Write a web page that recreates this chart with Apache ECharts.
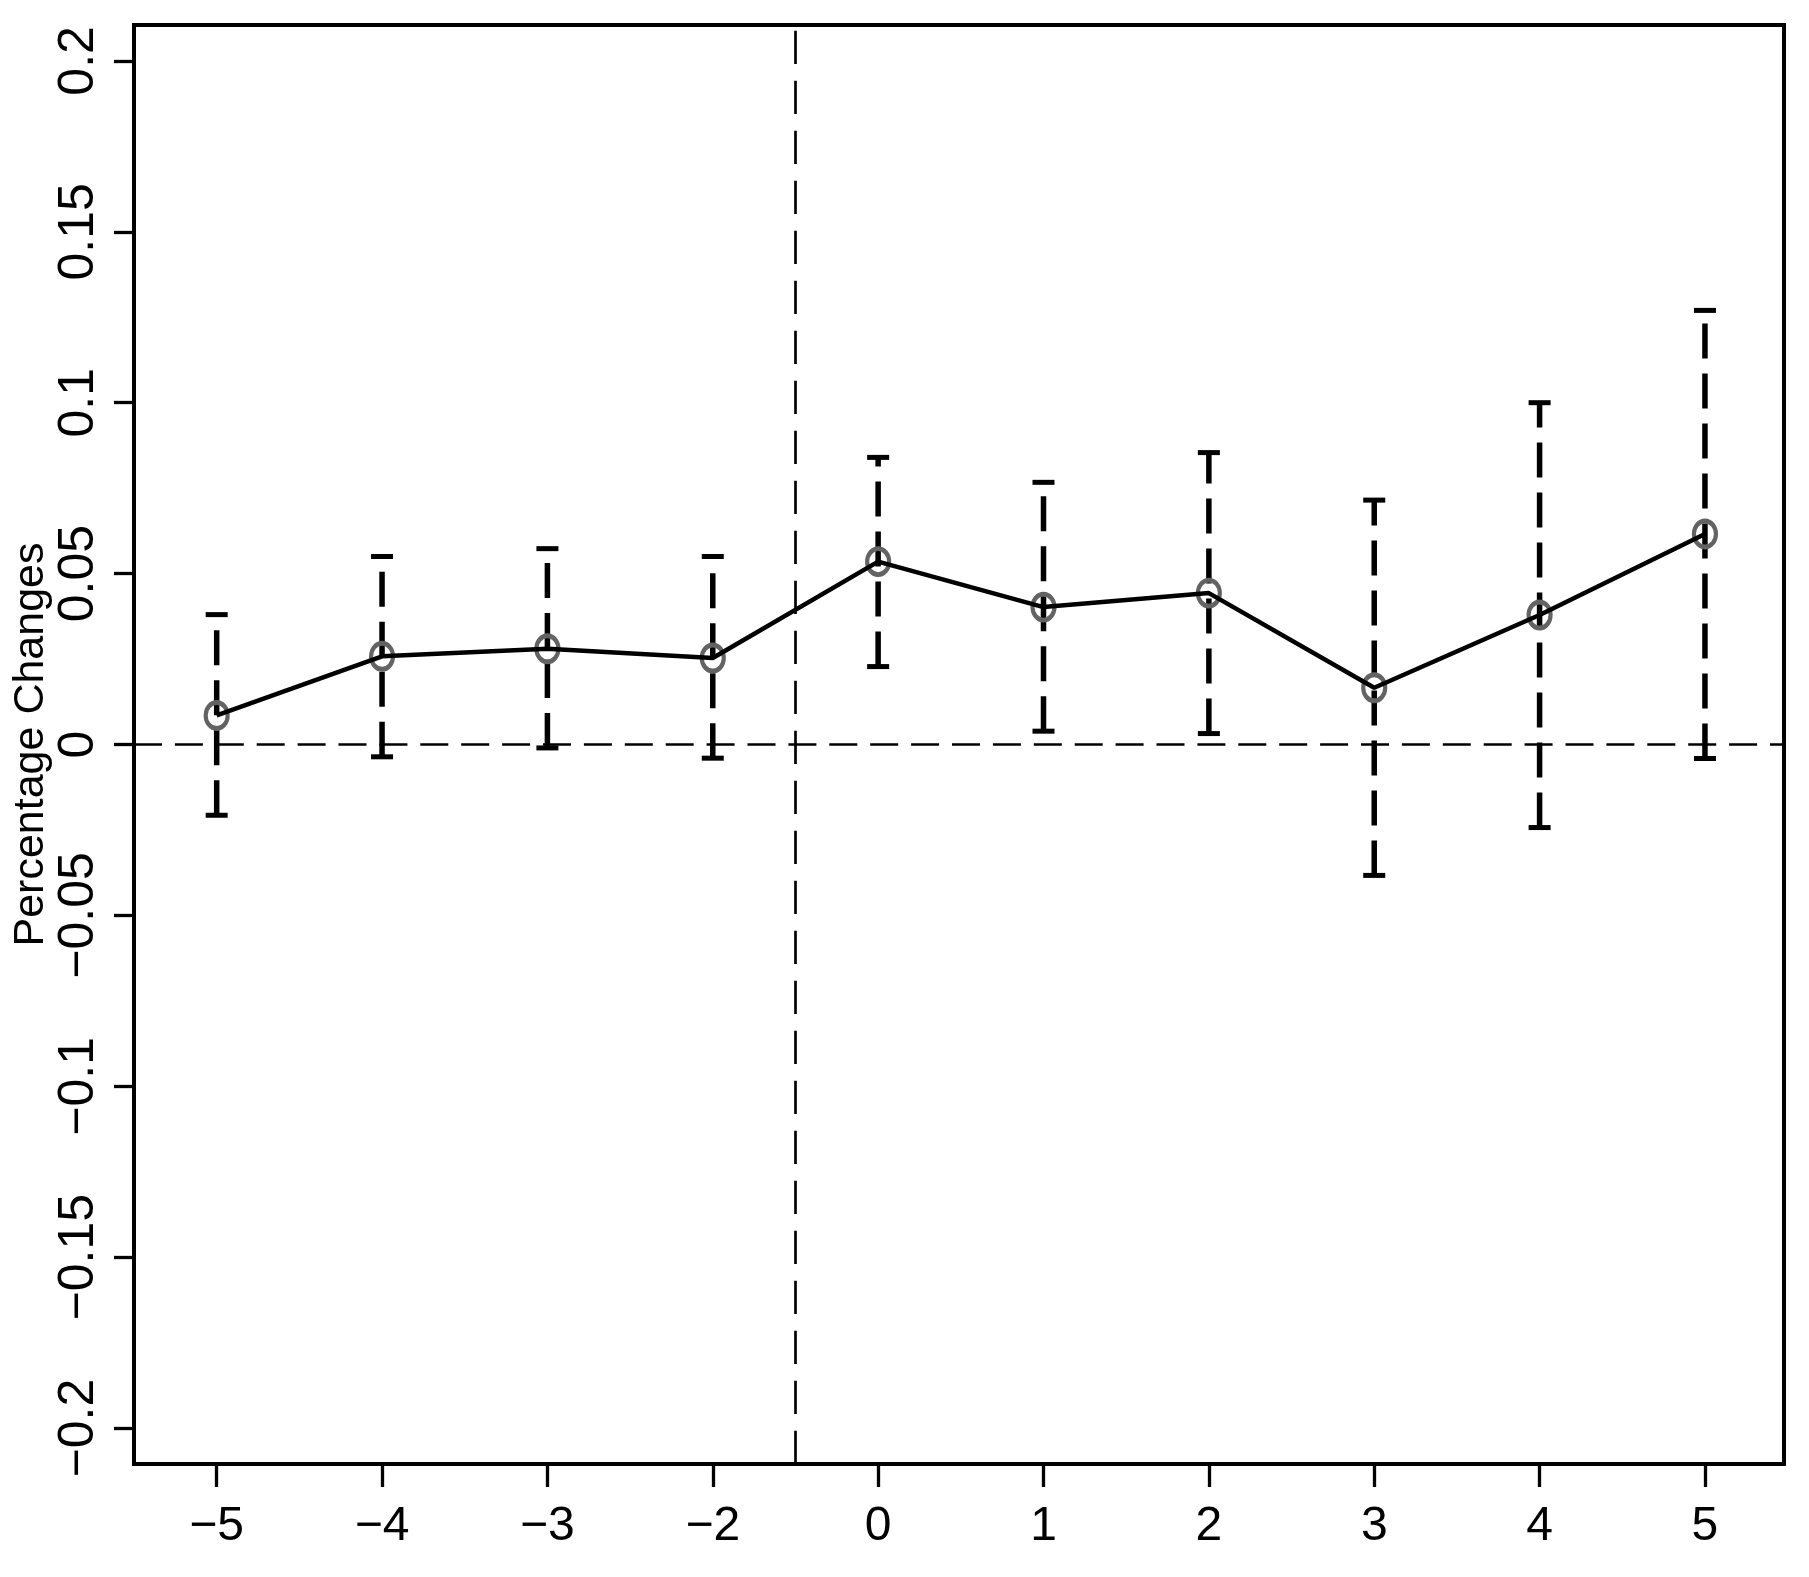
<!DOCTYPE html>
<html>
<head>
<meta charset="utf-8">
<script src="https://cdn.jsdelivr.net/npm/echarts@6/dist/echarts.min.js"></script>
<style>
  html, body { margin: 0; padding: 0; background: #fff; }
  #chart { width: 1809px; height: 1577px; }
</style>
</head>
<body>
<div id="chart"></div>
<script>
// ---- data ----
const categories = ['\u22125', '\u22124', '\u22123', '\u22122', '0', '1', '2', '3', '4', '5'];
const estimates = [0.0085, 0.0258, 0.0280, 0.0253, 0.0535, 0.0402, 0.0443, 0.0166, 0.0379, 0.0616];
const upperCI   = [0.0380, 0.0550, 0.0573, 0.0550, 0.0840, 0.0767, 0.0854, 0.0715, 0.1000, 0.1270];
const lowerCI   = [-0.0207, -0.0036, -0.0010, -0.0040, 0.0228, 0.0039, 0.0032, -0.0383, -0.0243, -0.0041];
const yTickValues = [-0.2, -0.15, -0.1, -0.05, 0, 0.05, 0.1, 0.15, 0.2];
const yTickLabels = ['\u22120.2', '\u22120.15', '\u22120.1', '\u22120.05', '0', '0.05', '0.1', '0.15', '0.2'];
const yTitle = 'Percentage Changes';
const treatmentBreak = 3.5; // between "-2" and "0"

// ---- build ----
const xIdx = categories.map((c, i) => i);
const font = "'Liberation Sans', Arial, Helvetica, sans-serif";

function yLabel(v) {
  for (let i = 0; i < yTickValues.length; i++) {
    if (Math.abs(yTickValues[i] - v) < 1e-9) return yTickLabels[i];
  }
  return '';
}

const chart = echarts.init(document.getElementById('chart'), null, { renderer: 'canvas' });

const option = {
  backgroundColor: '#ffffff',
  animation: false,
  grid: {
    left: 134, right: 25, top: 25, bottom: 113,
    containLabel: false,
    outerBoundsMode: 'none',
    show: true, borderColor: '#000', borderWidth: 4, backgroundColor: 'transparent'
  },
  xAxis: {
    type: 'value',
    min: -0.5, max: 9.478,
    splitLine: { show: false },
    axisLine: { show: false, onZero: false },
    axisTick: { show: true, customValues: xIdx, length: 23, lineStyle: { color: '#000', width: 3.3 } },
    axisLabel: {
      customValues: xIdx,
      formatter: v => categories[Math.round(v)],
      fontSize: 48, color: '#000', fontFamily: font, margin: 39
    }
  },
  yAxis: {
    type: 'value',
    min: -0.2105, max: 0.2105,
    splitLine: { show: false },
    axisLine: { show: false, onZero: false },
    axisTick: { show: true, customValues: yTickValues, length: 20, lineStyle: { color: '#000', width: 3.3 } },
    axisLabel: {
      customValues: yTickValues,
      formatter: v => yLabel(v),
      rotate: 90,
      fontSize: 50, color: '#000', fontFamily: font, margin: 30
    },
    name: yTitle,
    nameLocation: 'middle',
    nameRotate: 90,
    nameGap: 81,
    nameMoveOverlap: false,
    nameTextStyle: { fontSize: 43, color: '#000', fontFamily: font }
  },
  series: [
    {
      name: 'refs',
      type: 'line',
      data: [],
      silent: true,
      z: 1,
      markLine: {
        silent: true,
        symbol: ['none', 'none'],
        label: { show: false },
        data: [
          { yAxis: 0, lineStyle: { type: [28, 12.9], dashOffset: 0, width: 2.7, color: '#000' } },
          { xAxis: treatmentBreak, lineStyle: { type: [33.3, 16.7], dashOffset: 0, width: 2.7, color: '#000' } }
        ],
        lineStyle: { color: '#000' }
      }
    },
    {
      name: 'ci',
      type: 'custom',
      z: 2,
      silent: true,
      data: xIdx.map(i => [i, lowerCI[i], upperCI[i]]),
      encode: { x: 0, y: [1, 2] },
      renderItem: function (params, api) {
        const x = api.value(0);
        const lo = api.coord([x, api.value(1)]);
        const hi = api.coord([x, api.value(2)]);
        const hw = 11;
        return {
          type: 'group',
          children: [
            { type: 'line', shape: { x1: lo[0], y1: lo[1], x2: hi[0], y2: hi[1] },
              style: { stroke: '#000', lineWidth: 5.5, lineDash: [35, 15], lineCap: 'butt' } },
            { type: 'line', shape: { x1: lo[0] - hw, y1: lo[1], x2: lo[0] + hw, y2: lo[1] },
              style: { stroke: '#000', lineWidth: 5, lineCap: 'butt' } },
            { type: 'line', shape: { x1: hi[0] - hw, y1: hi[1], x2: hi[0] + hw, y2: hi[1] },
              style: { stroke: '#000', lineWidth: 5, lineCap: 'butt' } }
          ]
        };
      }
    },
    {
      name: 'points',
      type: 'scatter',
      z: 3,
      silent: true,
      symbol: 'circle',
      symbolSize: [22, 26],
      itemStyle: { color: 'rgba(0,0,0,0)', borderColor: '#636363', borderWidth: 4.5, opacity: 1 },
      data: xIdx.map(i => [i, estimates[i]])
    },
    {
      name: 'estimate',
      type: 'line',
      z: 4,
      silent: true,
      showSymbol: false,
      symbol: 'none',
      lineStyle: { color: '#000', width: 4.5 },
      data: xIdx.map(i => [i, estimates[i]])
    }
  ]
};

chart.setOption(option);
</script>
</body>
</html>
